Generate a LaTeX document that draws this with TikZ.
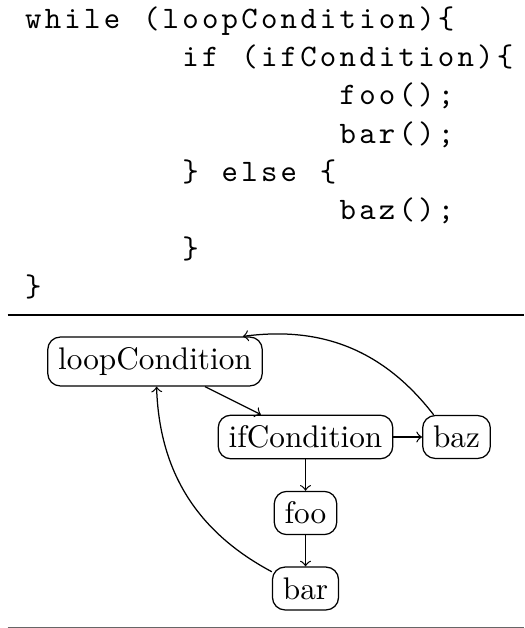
\documentclass[tikz,border=0pt]{standalone}
\usetikzlibrary{arrows}
\ExplSyntaxOn
\NewDocumentCommand\codeln{m}{\tl_map_inline:nn{#1}{\makebox[6.29pt][c]{##1}}}
\ExplSyntaxOff
\begin{document}
\begin{tikzpicture}[x=0.32pt,y=0.32pt,
  codeline/.style={anchor=base west,inner sep=0pt,font=\ttfamily\fontsize{10pt}{12pt}\selectfont},
  gbox/.style={draw,rounded corners,inner sep=0.3333em,font=\rmfamily\fontsize{10pt}{12pt}\selectfont},
  rulethick/.style={line width=0.5pt},
  rulethin/.style={line width=0.5pt,black!60},
  edge/.style={->,line width=0.4pt}]
\useasboundingbox (0,0) rectangle (524,-628);
% code listing
\node[codeline] (l1) at (22.9,-28.3) {\codeln{while~(loopCondition)\{}};
\node[codeline] (l2) at (22.9,-66.6) {\codeln{~~~~~~~~if~(ifCondition)\{}};
\node[codeline] (l3) at (22.9,-104.9) {\codeln{~~~~~~~~~~~~~~~~foo();}};
\node[codeline] (l4) at (22.9,-143.2) {\codeln{~~~~~~~~~~~~~~~~bar();}};
\node[codeline] (l5) at (22.9,-181.5) {\codeln{~~~~~~~~\}~else~\{}};
\node[codeline] (l6) at (22.9,-219.8) {\codeln{~~~~~~~~~~~~~~~~baz();}};
\node[codeline] (l7) at (22.9,-258.1) {\codeln{~~~~~~~~\}}};
\node[codeline] (l8) at (22.9,-296.4) {\codeln{\}}};
% rules
\coordinate (r1a) at (7.7,-315);
\coordinate (r1b) at (524,-315);
\coordinate (r2a) at (7.7,-627.3);
\coordinate (r2b) at (524,-627.3);
\draw[rulethick] (r1a) -- (r1b);
\draw[rulethin] (r2a) -- (r2b);
% graph
\node[gbox] (loop) at (155,-361.5) {loopCondition};
\node[gbox] (if) at (305.5,-437) {ifCondition};
\node[gbox] (baz) at (456.5,-437) {baz};
\node[gbox] (foo) at (305.5,-513) {foo};
\node[gbox] (bar) at (305.5,-588.5) {bar};
\draw[edge] (loop) -- (if);
\draw[edge] (if) -- (baz);
\draw[edge] (if) -- (foo);
\draw[edge] (foo) -- (bar);
\draw[edge] (bar) to[bend left=30] (loop);
\draw[edge] (baz) to[bend right=30] (loop);
\end{tikzpicture}
\end{document}
